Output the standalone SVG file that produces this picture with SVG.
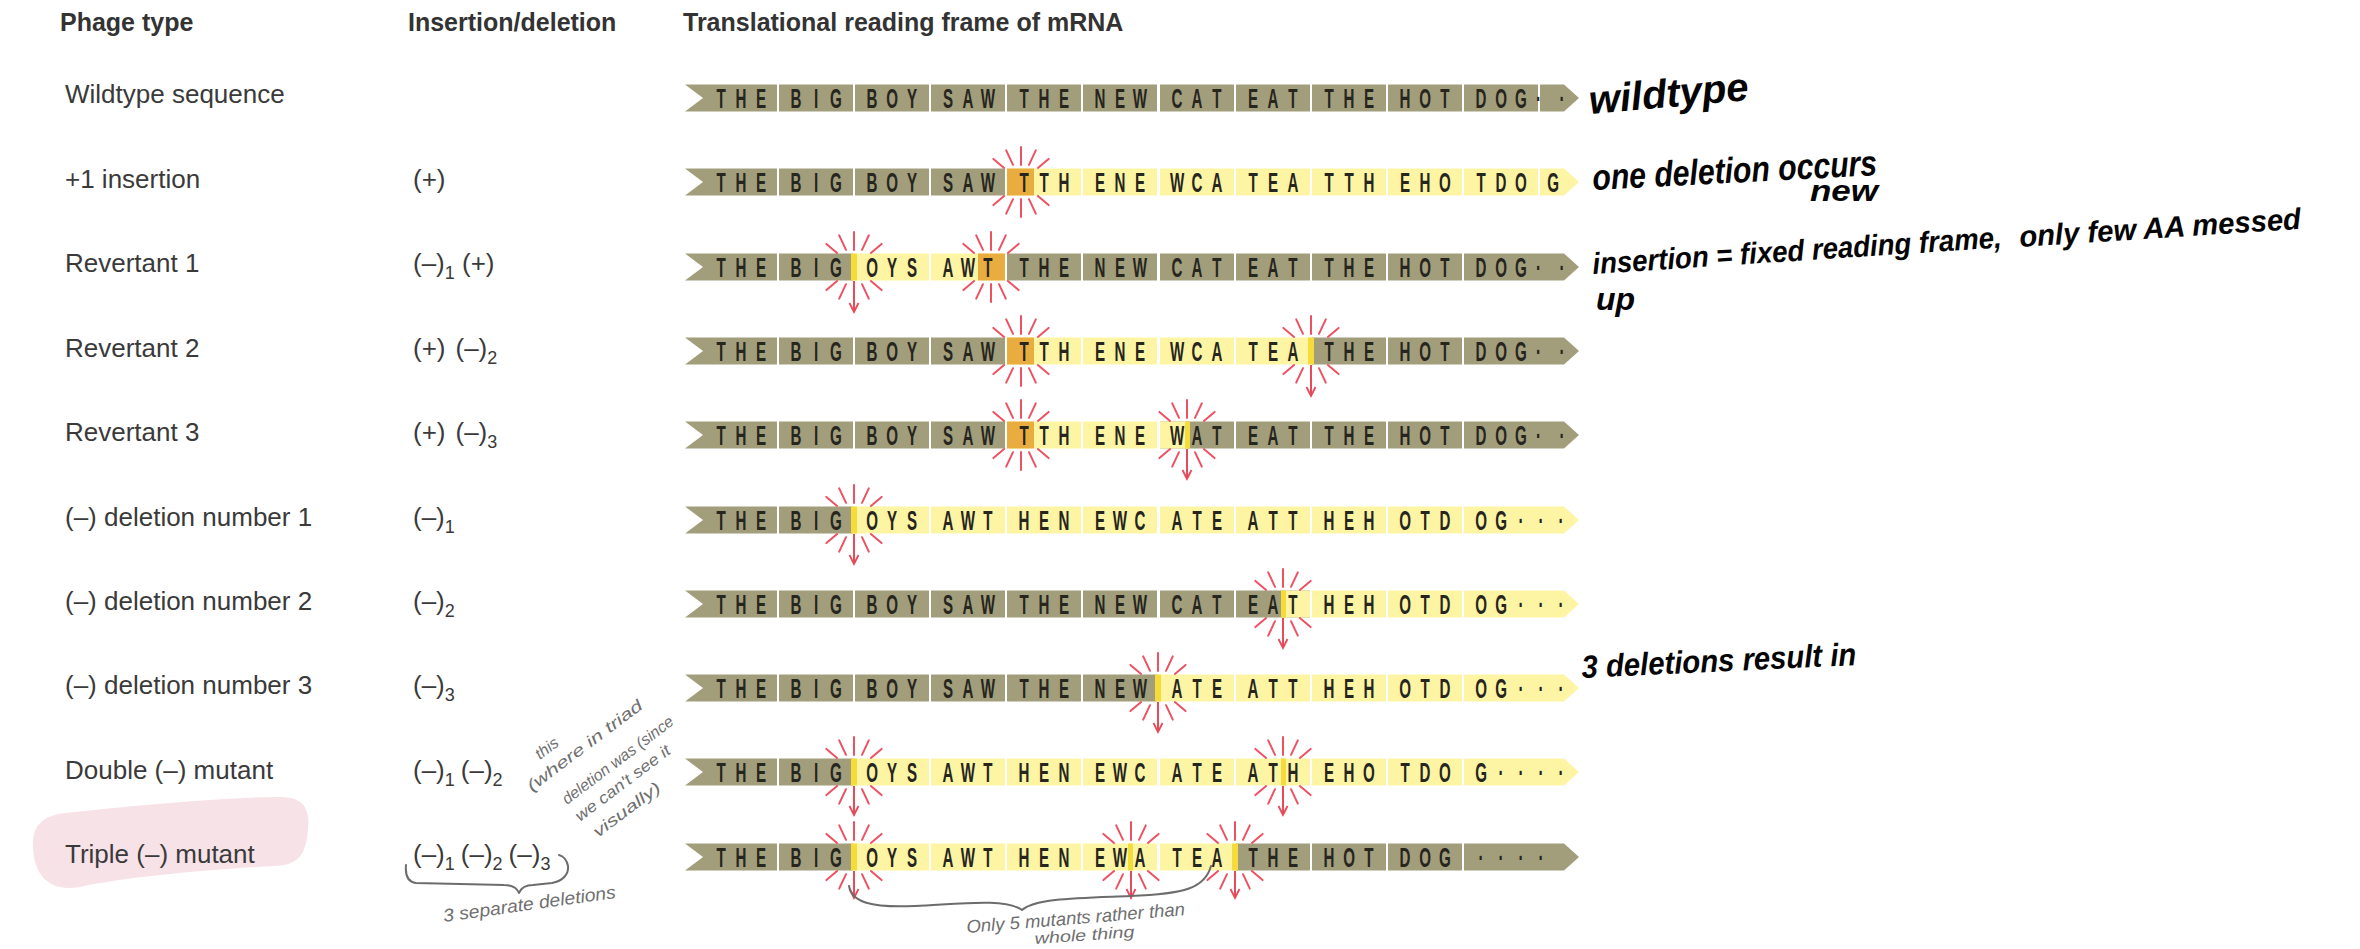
<svg xmlns="http://www.w3.org/2000/svg" width="2360" height="949" viewBox="0 0 2360 949">
<defs>
<style>
.hd{font-family:"Liberation Sans",Arial,sans-serif;font-weight:bold;font-size:25px;fill:#333}
.lbl{font-family:"Liberation Sans",Arial,sans-serif;font-size:26px;fill:#3a3a3a}
.sub{font-size:18px}
.d{fill:#a29e7b}
.y{fill:#fdf5a4}
.o{fill:#e9ad3f}
.bar{fill:#f5dc3a}
.cd{font-family:"Liberation Sans",Arial,sans-serif;font-weight:bold;font-size:27px;fill:#26251e;text-anchor:middle}
.hw{font-family:"Liberation Sans",Arial,sans-serif;font-weight:bold;font-style:italic;fill:#050505}
.pc{font-family:"Liberation Sans",Arial,sans-serif;font-style:italic;fill:#6f6f6f}
.pl{fill:none;stroke:#6c6c6c;stroke-width:2;stroke-linecap:round;stroke-linejoin:round}
.ar{fill:none;stroke:#e84a5a;stroke-width:2}
.ray{fill:none;stroke:#ee5262;stroke-width:2;stroke-linecap:round}
</style>
<g id="burst"><path class="ray" d="M0,-17V-35M8,-17.2L14.8,-31.7M-8,-17.2L-14.8,-31.7M16.9,-14.1L27.6,-23.1M-16.9,-14.1L-27.6,-23.1M0,17V35M8,17.2L14.8,31.7M-8,17.2L-14.8,31.7M16.9,14.1L27.6,23.1M-16.9,14.1L-27.6,23.1"/></g>
<marker id="ah" markerWidth="12" markerHeight="12" refX="10" refY="6" orient="auto" markerUnits="userSpaceOnUse"><path d="M1,1.5L10,6L1,10.5" fill="none" stroke="#e84a5a" stroke-width="1.8"/></marker>
</defs>
<rect width="2360" height="949" fill="#ffffff"/>

<g id="headers">
<text class="hd" x="60" y="31">Phage type</text>
<text class="hd" x="408" y="31">Insertion/deletion</text>
<text class="hd" x="683" y="31">Translational reading frame of mRNA</text>
</g>

<g id="highlight"><path d="M75,812C140,805 230,797 280,797C305,797 310,810 308,830C306,858 295,865 275,866C200,870 120,878 80,887C45,893 33,870 33,845C33,822 45,814 75,812Z" fill="#f7e2e8"/></g>

<g id="row1-wildtype">
<text class="lbl" x="65" y="103">Wildtype sequence</text>
<g transform="translate(0 98)">
<path class="d" d="M685,-13.5H777V13.5H685L703,0Z"/>
<rect class="d" x="779" y="-13.5" width="74" height="27"/><rect class="d" x="855" y="-13.5" width="74" height="27"/><rect class="d" x="931" y="-13.5" width="74" height="27"/><rect class="d" x="1007" y="-13.5" width="74" height="27"/><rect class="d" x="1083" y="-13.5" width="74" height="27"/><rect class="d" x="1160" y="-13.5" width="74" height="27"/><rect class="d" x="1236" y="-13.5" width="74" height="27"/><rect class="d" x="1312" y="-13.5" width="74" height="27"/><rect class="d" x="1388" y="-13.5" width="74" height="27"/><rect class="d" x="1464" y="-13.5" width="74" height="27"/>
<path class="d" d="M1540,-13.5H1564L1579,0L1564,13.5H1540Z"/>
<text class="cd" transform="translate(741 9.5) scale(.56 1)" x="-35.7 0 35.7">THE</text>
<text class="cd" transform="translate(816 9.5) scale(.56 1)" x="-35.7 0 35.7">BIG</text>
<text class="cd" transform="translate(892 9.5) scale(.56 1)" x="-35.7 0 35.7">BOY</text>
<text class="cd" transform="translate(968 9.5) scale(.56 1)" x="-35.7 0 35.7">SAW</text>
<text class="cd" transform="translate(1044 9.5) scale(.56 1)" x="-35.7 0 35.7">THE</text>
<text class="cd" transform="translate(1120 9.5) scale(.56 1)" x="-35.7 0 35.7">NEW</text>
<text class="cd" transform="translate(1197 9.5) scale(.56 1)" x="-35.7 0 35.7">CAT</text>
<text class="cd" transform="translate(1273 9.5) scale(.56 1)" x="-35.7 0 35.7">EAT</text>
<text class="cd" transform="translate(1349 9.5) scale(.56 1)" x="-35.7 0 35.7">THE</text>
<text class="cd" transform="translate(1425 9.5) scale(.56 1)" x="-35.7 0 35.7">HOT</text>
<text class="cd" transform="translate(1501 9.5) scale(.56 1)" x="-35.7 0 35.7">DOG</text>
<text class="cd" transform="translate(1501 9.5) scale(.56 1)" x="67 109">··</text>
</g></g>

<g id="row2-plus1">
<text class="lbl" x="65" y="188">+1 insertion</text>
<text class="lbl" x="413" y="188">(+)</text>
<g transform="translate(0 182)">
<path class="d" d="M685,-13.5H777V13.5H685L703,0Z"/>
<rect class="d" x="779" y="-13.5" width="74" height="27"/><rect class="d" x="855" y="-13.5" width="74" height="27"/><rect class="d" x="931" y="-13.5" width="74" height="27"/><rect class="y" x="1007" y="-13.5" width="74" height="27"/><rect class="o" x="1007" y="-13.5" width="27" height="27"/><rect class="y" x="1083" y="-13.5" width="74" height="27"/><rect class="y" x="1160" y="-13.5" width="74" height="27"/><rect class="y" x="1236" y="-13.5" width="74" height="27"/><rect class="y" x="1312" y="-13.5" width="74" height="27"/><rect class="y" x="1388" y="-13.5" width="74" height="27"/><rect class="y" x="1464" y="-13.5" width="74" height="27"/>
<path class="y" d="M1540,-13.5H1564L1579,0L1564,13.5H1540Z"/>
<text class="cd" transform="translate(741 9.5) scale(.56 1)" x="-35.7 0 35.7">THE</text>
<text class="cd" transform="translate(816 9.5) scale(.56 1)" x="-35.7 0 35.7">BIG</text>
<text class="cd" transform="translate(892 9.5) scale(.56 1)" x="-35.7 0 35.7">BOY</text>
<text class="cd" transform="translate(968 9.5) scale(.56 1)" x="-35.7 0 35.7">SAW</text>
<text class="cd" transform="translate(1044 9.5) scale(.56 1)" x="-35.7 0 35.7">TTH</text>
<text class="cd" transform="translate(1120 9.5) scale(.56 1)" x="-35.7 0 35.7">ENE</text>
<text class="cd" transform="translate(1197 9.5) scale(.56 1)" x="-35.7 0 35.7">WCA</text>
<text class="cd" transform="translate(1273 9.5) scale(.56 1)" x="-35.7 0 35.7">TEA</text>
<text class="cd" transform="translate(1349 9.5) scale(.56 1)" x="-35.7 0 35.7">TTH</text>
<text class="cd" transform="translate(1425 9.5) scale(.56 1)" x="-35.7 0 35.7">EHO</text>
<text class="cd" transform="translate(1501 9.5) scale(.56 1)" x="-35.7 0 35.7">TDO</text>
<text class="cd" transform="translate(1553 9.5) scale(.56 1)" x="0">G</text>
<use href="#burst" x="1021"/>
</g></g>

<g id="row3-revertant1">
<text class="lbl" x="65" y="272">Revertant 1</text>
<text class="lbl" x="413" y="272">(–)<tspan class="sub" dy="7">1</tspan><tspan dy="-7"> (+)</tspan></text>
<g transform="translate(0 267)">
<path class="d" d="M685,-13.5H777V13.5H685L703,0Z"/>
<rect class="d" x="779" y="-13.5" width="74" height="27"/><rect class="y" x="855" y="-13.5" width="74" height="27"/><rect class="y" x="931" y="-13.5" width="74" height="27"/><rect class="o" x="978" y="-13.5" width="27" height="27"/><rect class="d" x="1007" y="-13.5" width="74" height="27"/><rect class="d" x="1083" y="-13.5" width="74" height="27"/><rect class="d" x="1160" y="-13.5" width="74" height="27"/><rect class="d" x="1236" y="-13.5" width="74" height="27"/><rect class="d" x="1312" y="-13.5" width="74" height="27"/><rect class="d" x="1388" y="-13.5" width="74" height="27"/>
<path class="d" d="M1464,-13.5H1564L1579,0L1564,13.5H1464Z"/>
<rect class="bar" x="851" y="-13.5" width="6" height="27"/>
<text class="cd" transform="translate(741 9.5) scale(.56 1)" x="-35.7 0 35.7">THE</text>
<text class="cd" transform="translate(816 9.5) scale(.56 1)" x="-35.7 0 35.7">BIG</text>
<text class="cd" transform="translate(892 9.5) scale(.56 1)" x="-35.7 0 35.7">OYS</text>
<text class="cd" transform="translate(968 9.5) scale(.56 1)" x="-35.7 0 35.7">AWT</text>
<text class="cd" transform="translate(1044 9.5) scale(.56 1)" x="-35.7 0 35.7">THE</text>
<text class="cd" transform="translate(1120 9.5) scale(.56 1)" x="-35.7 0 35.7">NEW</text>
<text class="cd" transform="translate(1197 9.5) scale(.56 1)" x="-35.7 0 35.7">CAT</text>
<text class="cd" transform="translate(1273 9.5) scale(.56 1)" x="-35.7 0 35.7">EAT</text>
<text class="cd" transform="translate(1349 9.5) scale(.56 1)" x="-35.7 0 35.7">THE</text>
<text class="cd" transform="translate(1425 9.5) scale(.56 1)" x="-35.7 0 35.7">HOT</text>
<text class="cd" transform="translate(1501 9.5) scale(.56 1)" x="-35.7 0 35.7 67 109">DOG··</text>
<use href="#burst" x="854"/><use href="#burst" x="991"/>
</g></g>

<g id="row4-revertant2">
<text class="lbl" x="65" y="357">Revertant 2</text>
<text class="lbl" x="413" y="357">(+)<tspan dx="10">(–)</tspan><tspan class="sub" dy="7">2</tspan></text>
<g transform="translate(0 351)">
<path class="d" d="M685,-13.5H777V13.5H685L703,0Z"/>
<rect class="d" x="779" y="-13.5" width="74" height="27"/><rect class="d" x="855" y="-13.5" width="74" height="27"/><rect class="d" x="931" y="-13.5" width="74" height="27"/><rect class="y" x="1007" y="-13.5" width="74" height="27"/><rect class="o" x="1007" y="-13.5" width="27" height="27"/><rect class="y" x="1083" y="-13.5" width="74" height="27"/><rect class="y" x="1160" y="-13.5" width="74" height="27"/><rect class="y" x="1236" y="-13.5" width="74" height="27"/><rect class="d" x="1312" y="-13.5" width="74" height="27"/><rect class="d" x="1388" y="-13.5" width="74" height="27"/>
<path class="d" d="M1464,-13.5H1564L1579,0L1564,13.5H1464Z"/>
<rect class="bar" x="1308" y="-13.5" width="6" height="27"/>
<text class="cd" transform="translate(741 9.5) scale(.56 1)" x="-35.7 0 35.7">THE</text>
<text class="cd" transform="translate(816 9.5) scale(.56 1)" x="-35.7 0 35.7">BIG</text>
<text class="cd" transform="translate(892 9.5) scale(.56 1)" x="-35.7 0 35.7">BOY</text>
<text class="cd" transform="translate(968 9.5) scale(.56 1)" x="-35.7 0 35.7">SAW</text>
<text class="cd" transform="translate(1044 9.5) scale(.56 1)" x="-35.7 0 35.7">TTH</text>
<text class="cd" transform="translate(1120 9.5) scale(.56 1)" x="-35.7 0 35.7">ENE</text>
<text class="cd" transform="translate(1197 9.5) scale(.56 1)" x="-35.7 0 35.7">WCA</text>
<text class="cd" transform="translate(1273 9.5) scale(.56 1)" x="-35.7 0 35.7">TEA</text>
<text class="cd" transform="translate(1349 9.5) scale(.56 1)" x="-35.7 0 35.7">THE</text>
<text class="cd" transform="translate(1425 9.5) scale(.56 1)" x="-35.7 0 35.7">HOT</text>
<text class="cd" transform="translate(1501 9.5) scale(.56 1)" x="-35.7 0 35.7 67 109">DOG··</text>
<use href="#burst" x="1021"/><use href="#burst" x="1311"/>
</g></g>

<g id="row5-revertant3">
<text class="lbl" x="65" y="441">Revertant 3</text>
<text class="lbl" x="413" y="441">(+)<tspan dx="10">(–)</tspan><tspan class="sub" dy="7">3</tspan></text>
<g transform="translate(0 435)">
<path class="d" d="M685,-13.5H777V13.5H685L703,0Z"/>
<rect class="d" x="779" y="-13.5" width="74" height="27"/><rect class="d" x="855" y="-13.5" width="74" height="27"/><rect class="d" x="931" y="-13.5" width="74" height="27"/><rect class="y" x="1007" y="-13.5" width="74" height="27"/><rect class="o" x="1007" y="-13.5" width="27" height="27"/><rect class="y" x="1083" y="-13.5" width="74" height="27"/><rect class="d" x="1160" y="-13.5" width="74" height="27"/><rect class="y" x="1160" y="-13.5" width="26" height="27"/><rect class="d" x="1236" y="-13.5" width="74" height="27"/><rect class="d" x="1312" y="-13.5" width="74" height="27"/><rect class="d" x="1388" y="-13.5" width="74" height="27"/>
<path class="d" d="M1464,-13.5H1564L1579,0L1564,13.5H1464Z"/>
<rect class="bar" x="1185" y="-13.5" width="5" height="27"/>
<text class="cd" transform="translate(741 9.5) scale(.56 1)" x="-35.7 0 35.7">THE</text>
<text class="cd" transform="translate(816 9.5) scale(.56 1)" x="-35.7 0 35.7">BIG</text>
<text class="cd" transform="translate(892 9.5) scale(.56 1)" x="-35.7 0 35.7">BOY</text>
<text class="cd" transform="translate(968 9.5) scale(.56 1)" x="-35.7 0 35.7">SAW</text>
<text class="cd" transform="translate(1044 9.5) scale(.56 1)" x="-35.7 0 35.7">TTH</text>
<text class="cd" transform="translate(1120 9.5) scale(.56 1)" x="-35.7 0 35.7">ENE</text>
<text class="cd" transform="translate(1197 9.5) scale(.56 1)" x="-35.7 0 35.7">WAT</text>
<text class="cd" transform="translate(1273 9.5) scale(.56 1)" x="-35.7 0 35.7">EAT</text>
<text class="cd" transform="translate(1349 9.5) scale(.56 1)" x="-35.7 0 35.7">THE</text>
<text class="cd" transform="translate(1425 9.5) scale(.56 1)" x="-35.7 0 35.7">HOT</text>
<text class="cd" transform="translate(1501 9.5) scale(.56 1)" x="-35.7 0 35.7 67 109">DOG··</text>
<use href="#burst" x="1021"/><use href="#burst" x="1187"/>
</g></g>

<g id="row6-deletion1">
<text class="lbl" x="65" y="526">(–) deletion number 1</text>
<text class="lbl" x="413" y="526">(–)<tspan class="sub" dy="7">1</tspan></text>
<g transform="translate(0 520)">
<path class="d" d="M685,-13.5H777V13.5H685L703,0Z"/>
<rect class="d" x="779" y="-13.5" width="74" height="27"/><rect class="y" x="855" y="-13.5" width="74" height="27"/><rect class="y" x="931" y="-13.5" width="74" height="27"/><rect class="y" x="1007" y="-13.5" width="74" height="27"/><rect class="y" x="1083" y="-13.5" width="74" height="27"/><rect class="y" x="1160" y="-13.5" width="74" height="27"/><rect class="y" x="1236" y="-13.5" width="74" height="27"/><rect class="y" x="1312" y="-13.5" width="74" height="27"/><rect class="y" x="1388" y="-13.5" width="74" height="27"/>
<path class="y" d="M1464,-13.5H1564L1579,0L1564,13.5H1464Z"/>
<rect class="bar" x="851" y="-13.5" width="6" height="27"/>
<text class="cd" transform="translate(741 9.5) scale(.56 1)" x="-35.7 0 35.7">THE</text>
<text class="cd" transform="translate(816 9.5) scale(.56 1)" x="-35.7 0 35.7">BIG</text>
<text class="cd" transform="translate(892 9.5) scale(.56 1)" x="-35.7 0 35.7">OYS</text>
<text class="cd" transform="translate(968 9.5) scale(.56 1)" x="-35.7 0 35.7">AWT</text>
<text class="cd" transform="translate(1044 9.5) scale(.56 1)" x="-35.7 0 35.7">HEN</text>
<text class="cd" transform="translate(1120 9.5) scale(.56 1)" x="-35.7 0 35.7">EWC</text>
<text class="cd" transform="translate(1197 9.5) scale(.56 1)" x="-35.7 0 35.7">ATE</text>
<text class="cd" transform="translate(1273 9.5) scale(.56 1)" x="-35.7 0 35.7">ATT</text>
<text class="cd" transform="translate(1349 9.5) scale(.56 1)" x="-35.7 0 35.7">HEH</text>
<text class="cd" transform="translate(1425 9.5) scale(.56 1)" x="-35.7 0 35.7">OTD</text>
<text class="cd" transform="translate(1501 9.5) scale(.56 1)" x="-35.7 0 35.7 71.4 107.1">OG···</text>
<use href="#burst" x="854"/>
</g></g>

<g id="row7-deletion2">
<text class="lbl" x="65" y="610">(–) deletion number 2</text>
<text class="lbl" x="413" y="610">(–)<tspan class="sub" dy="7">2</tspan></text>
<g transform="translate(0 604)">
<path class="d" d="M685,-13.5H777V13.5H685L703,0Z"/>
<rect class="d" x="779" y="-13.5" width="74" height="27"/><rect class="d" x="855" y="-13.5" width="74" height="27"/><rect class="d" x="931" y="-13.5" width="74" height="27"/><rect class="d" x="1007" y="-13.5" width="74" height="27"/><rect class="d" x="1083" y="-13.5" width="74" height="27"/><rect class="d" x="1160" y="-13.5" width="74" height="27"/><rect class="d" x="1236" y="-13.5" width="74" height="27"/><rect class="y" x="1283" y="-13.5" width="27" height="27"/><rect class="y" x="1312" y="-13.5" width="74" height="27"/><rect class="y" x="1388" y="-13.5" width="74" height="27"/>
<path class="y" d="M1464,-13.5H1564L1579,0L1564,13.5H1464Z"/>
<rect class="bar" x="1281" y="-13.5" width="5" height="27"/>
<text class="cd" transform="translate(741 9.5) scale(.56 1)" x="-35.7 0 35.7">THE</text>
<text class="cd" transform="translate(816 9.5) scale(.56 1)" x="-35.7 0 35.7">BIG</text>
<text class="cd" transform="translate(892 9.5) scale(.56 1)" x="-35.7 0 35.7">BOY</text>
<text class="cd" transform="translate(968 9.5) scale(.56 1)" x="-35.7 0 35.7">SAW</text>
<text class="cd" transform="translate(1044 9.5) scale(.56 1)" x="-35.7 0 35.7">THE</text>
<text class="cd" transform="translate(1120 9.5) scale(.56 1)" x="-35.7 0 35.7">NEW</text>
<text class="cd" transform="translate(1197 9.5) scale(.56 1)" x="-35.7 0 35.7">CAT</text>
<text class="cd" transform="translate(1273 9.5) scale(.56 1)" x="-35.7 0 35.7">EAT</text>
<text class="cd" transform="translate(1349 9.5) scale(.56 1)" x="-35.7 0 35.7">HEH</text>
<text class="cd" transform="translate(1425 9.5) scale(.56 1)" x="-35.7 0 35.7">OTD</text>
<text class="cd" transform="translate(1501 9.5) scale(.56 1)" x="-35.7 0 35.7 71.4 107.1">OG···</text>
<use href="#burst" x="1283"/>
</g></g>

<g id="row8-deletion3">
<text class="lbl" x="65" y="694">(–) deletion number 3</text>
<text class="lbl" x="413" y="694">(–)<tspan class="sub" dy="7">3</tspan></text>
<g transform="translate(0 688)">
<path class="d" d="M685,-13.5H777V13.5H685L703,0Z"/>
<rect class="d" x="779" y="-13.5" width="74" height="27"/><rect class="d" x="855" y="-13.5" width="74" height="27"/><rect class="d" x="931" y="-13.5" width="74" height="27"/><rect class="d" x="1007" y="-13.5" width="74" height="27"/><rect class="d" x="1083" y="-13.5" width="74" height="27"/><rect class="y" x="1160" y="-13.5" width="74" height="27"/><rect class="y" x="1236" y="-13.5" width="74" height="27"/><rect class="y" x="1312" y="-13.5" width="74" height="27"/><rect class="y" x="1388" y="-13.5" width="74" height="27"/>
<path class="y" d="M1464,-13.5H1564L1579,0L1564,13.5H1464Z"/>
<rect class="bar" x="1155" y="-13.5" width="6" height="27"/>
<text class="cd" transform="translate(741 9.5) scale(.56 1)" x="-35.7 0 35.7">THE</text>
<text class="cd" transform="translate(816 9.5) scale(.56 1)" x="-35.7 0 35.7">BIG</text>
<text class="cd" transform="translate(892 9.5) scale(.56 1)" x="-35.7 0 35.7">BOY</text>
<text class="cd" transform="translate(968 9.5) scale(.56 1)" x="-35.7 0 35.7">SAW</text>
<text class="cd" transform="translate(1044 9.5) scale(.56 1)" x="-35.7 0 35.7">THE</text>
<text class="cd" transform="translate(1120 9.5) scale(.56 1)" x="-35.7 0 35.7">NEW</text>
<text class="cd" transform="translate(1197 9.5) scale(.56 1)" x="-35.7 0 35.7">ATE</text>
<text class="cd" transform="translate(1273 9.5) scale(.56 1)" x="-35.7 0 35.7">ATT</text>
<text class="cd" transform="translate(1349 9.5) scale(.56 1)" x="-35.7 0 35.7">HEH</text>
<text class="cd" transform="translate(1425 9.5) scale(.56 1)" x="-35.7 0 35.7">OTD</text>
<text class="cd" transform="translate(1501 9.5) scale(.56 1)" x="-35.7 0 35.7 71.4 107.1">OG···</text>
<use href="#burst" x="1158"/>
</g></g>

<g id="row9-double">
<text class="lbl" x="65" y="779">Double (–) mutant</text>
<text class="lbl" x="413" y="779">(–)<tspan class="sub" dy="7">1</tspan><tspan dy="-7" dx="6">(–)</tspan><tspan class="sub" dy="7">2</tspan></text>
<g transform="translate(0 772)">
<path class="d" d="M685,-13.5H777V13.5H685L703,0Z"/>
<rect class="d" x="779" y="-13.5" width="74" height="27"/><rect class="y" x="855" y="-13.5" width="74" height="27"/><rect class="y" x="931" y="-13.5" width="74" height="27"/><rect class="y" x="1007" y="-13.5" width="74" height="27"/><rect class="y" x="1083" y="-13.5" width="74" height="27"/><rect class="y" x="1160" y="-13.5" width="74" height="27"/><rect class="y" x="1236" y="-13.5" width="74" height="27"/><rect class="y" x="1312" y="-13.5" width="74" height="27"/><rect class="y" x="1388" y="-13.5" width="74" height="27"/>
<path class="y" d="M1464,-13.5H1564L1579,0L1564,13.5H1464Z"/>
<rect class="bar" x="851" y="-13.5" width="6" height="27"/><rect class="bar" x="1281" y="-13.5" width="5" height="27"/>
<text class="cd" transform="translate(741 9.5) scale(.56 1)" x="-35.7 0 35.7">THE</text>
<text class="cd" transform="translate(816 9.5) scale(.56 1)" x="-35.7 0 35.7">BIG</text>
<text class="cd" transform="translate(892 9.5) scale(.56 1)" x="-35.7 0 35.7">OYS</text>
<text class="cd" transform="translate(968 9.5) scale(.56 1)" x="-35.7 0 35.7">AWT</text>
<text class="cd" transform="translate(1044 9.5) scale(.56 1)" x="-35.7 0 35.7">HEN</text>
<text class="cd" transform="translate(1120 9.5) scale(.56 1)" x="-35.7 0 35.7">EWC</text>
<text class="cd" transform="translate(1197 9.5) scale(.56 1)" x="-35.7 0 35.7">ATE</text>
<text class="cd" transform="translate(1273 9.5) scale(.56 1)" x="-35.7 0 35.7">ATH</text>
<text class="cd" transform="translate(1349 9.5) scale(.56 1)" x="-35.7 0 35.7">EHO</text>
<text class="cd" transform="translate(1425 9.5) scale(.56 1)" x="-35.7 0 35.7">TDO</text>
<text class="cd" transform="translate(1501 9.5) scale(.56 1)" x="-35.7 0 35.7 71.4 107.1">G····</text>
<use href="#burst" x="854"/><use href="#burst" x="1283"/>
</g></g>

<g id="row10-triple">
<text class="lbl" x="65" y="863">Triple (–) mutant</text>
<text class="lbl" x="413" y="863">(–)<tspan class="sub" dy="7">1</tspan><tspan dy="-7" dx="6">(–)</tspan><tspan class="sub" dy="7">2</tspan><tspan dy="-7" dx="6">(–)</tspan><tspan class="sub" dy="7">3</tspan></text>
<g transform="translate(0 857)">
<path class="d" d="M685,-13.5H777V13.5H685L703,0Z"/>
<rect class="d" x="779" y="-13.5" width="74" height="27"/><rect class="y" x="855" y="-13.5" width="74" height="27"/><rect class="y" x="931" y="-13.5" width="74" height="27"/><rect class="y" x="1007" y="-13.5" width="74" height="27"/><rect class="y" x="1083" y="-13.5" width="74" height="27"/><rect class="y" x="1160" y="-13.5" width="74" height="27"/><rect class="d" x="1236" y="-13.5" width="74" height="27"/><rect class="d" x="1312" y="-13.5" width="74" height="27"/><rect class="d" x="1388" y="-13.5" width="74" height="27"/>
<path class="d" d="M1464,-13.5H1564L1579,0L1564,13.5H1464Z"/>
<rect class="bar" x="851" y="-13.5" width="6" height="27"/><rect class="bar" x="1128" y="-13.5" width="5" height="27"/><rect class="bar" x="1232" y="-13.5" width="6" height="27"/>
<text class="cd" transform="translate(741 9.5) scale(.56 1)" x="-35.7 0 35.7">THE</text>
<text class="cd" transform="translate(816 9.5) scale(.56 1)" x="-35.7 0 35.7">BIG</text>
<text class="cd" transform="translate(892 9.5) scale(.56 1)" x="-35.7 0 35.7">OYS</text>
<text class="cd" transform="translate(968 9.5) scale(.56 1)" x="-35.7 0 35.7">AWT</text>
<text class="cd" transform="translate(1044 9.5) scale(.56 1)" x="-35.7 0 35.7">HEN</text>
<text class="cd" transform="translate(1120 9.5) scale(.56 1)" x="-35.7 0 35.7">EWA</text>
<text class="cd" transform="translate(1197 9.5) scale(.56 1)" x="-35.7 0 35.7">TEA</text>
<text class="cd" transform="translate(1273 9.5) scale(.56 1)" x="-35.7 0 35.7">THE</text>
<text class="cd" transform="translate(1349 9.5) scale(.56 1)" x="-35.7 0 35.7">HOT</text>
<text class="cd" transform="translate(1425 9.5) scale(.56 1)" x="-35.7 0 35.7">DOG</text>
<text class="cd" transform="translate(1501 9.5) scale(.56 1)" x="-35.7 0 35.7 71.4">····</text>
<use href="#burst" x="854"/><use href="#burst" x="1131"/><use href="#burst" x="1235"/>
</g></g>

<g id="connectors">
<path class="ar" marker-end="url(#ah)" d="M854,281V312"/>
<path class="ar" marker-end="url(#ah)" d="M1311,365V396"/>
<path class="ar" marker-end="url(#ah)" d="M1187,449V479"/>
<path class="ar" marker-end="url(#ah)" d="M854,534V564"/>
<path class="ar" marker-end="url(#ah)" d="M1283,618V648"/>
<path class="ar" marker-end="url(#ah)" d="M1158,702V732"/>
<path class="ar" marker-end="url(#ah)" d="M854,786V815"/>
<path class="ar" marker-end="url(#ah)" d="M1283,786V815"/>
<path class="ar" marker-end="url(#ah)" d="M854,871V898"/>
<path class="ar" marker-end="url(#ah)" d="M1131,871V898"/>
<path class="ar" marker-end="url(#ah)" d="M1235,871V898"/>
</g>

<g id="annotations">
<text class="hw" font-size="40" transform="translate(1590 114) rotate(-5)" textLength="160" lengthAdjust="spacingAndGlyphs">wildtype</text>
<text class="hw" font-size="36" transform="translate(1593 190) rotate(-3)" textLength="285" lengthAdjust="spacingAndGlyphs">one deletion occurs</text>
<text class="hw" font-size="30" transform="translate(1810 201)" textLength="68" lengthAdjust="spacingAndGlyphs">new</text>
<text class="hw" font-size="30" transform="translate(1593 274) rotate(-3.7)" textLength="410" lengthAdjust="spacingAndGlyphs">insertion = fixed reading frame,</text>
<text class="hw" font-size="30" transform="translate(2020 247) rotate(-3.7)" textLength="282" lengthAdjust="spacingAndGlyphs">only few AA messed</text>
<text class="hw" font-size="32" x="1596" y="310">up</text>
<text class="hw" font-size="32" transform="translate(1582 678) rotate(-2.7)" textLength="275" lengthAdjust="spacingAndGlyphs">3 deletions result in</text>
<g font-size="16">
<text class="pc" transform="translate(540 760) rotate(-37)">this</text>
<text class="pc" transform="translate(532 792) rotate(-37)" textLength="140" lengthAdjust="spacingAndGlyphs">(where in triad</text>
<text class="pc" transform="translate(567 805) rotate(-37)" textLength="135" lengthAdjust="spacingAndGlyphs">deletion was (since</text>
<text class="pc" transform="translate(580 822) rotate(-37)" textLength="115" lengthAdjust="spacingAndGlyphs">we can't see it</text>
<text class="pc" transform="translate(598 838) rotate(-37)" textLength="80" lengthAdjust="spacingAndGlyphs">visually)</text>
</g>
<path class="pl" d="M406,865C405,876 408,882 416,883L504,885C512,885 517,888 519,893C521,888 526,885 533,885L552,883C563,881 569,874 568,866C567,860 563,856 559,855"/>
<text class="pc" font-size="18" transform="translate(444 922) rotate(-8)" textLength="174" lengthAdjust="spacingAndGlyphs">3 separate deletions</text>
<path class="pl" d="M849,886C852,902 870,908 915,906C960,904 1005,898 1022,910C1035,898 1080,898 1130,896C1185,894 1205,888 1211,866"/>
<text class="pc" font-size="18" transform="translate(967 933) rotate(-4.7)" textLength="219" lengthAdjust="spacingAndGlyphs">Only 5 mutants rather than</text>
<text class="pc" font-size="16" transform="translate(1035 944) rotate(-4)" textLength="100" lengthAdjust="spacingAndGlyphs">whole thing</text>
</g>
</svg>
